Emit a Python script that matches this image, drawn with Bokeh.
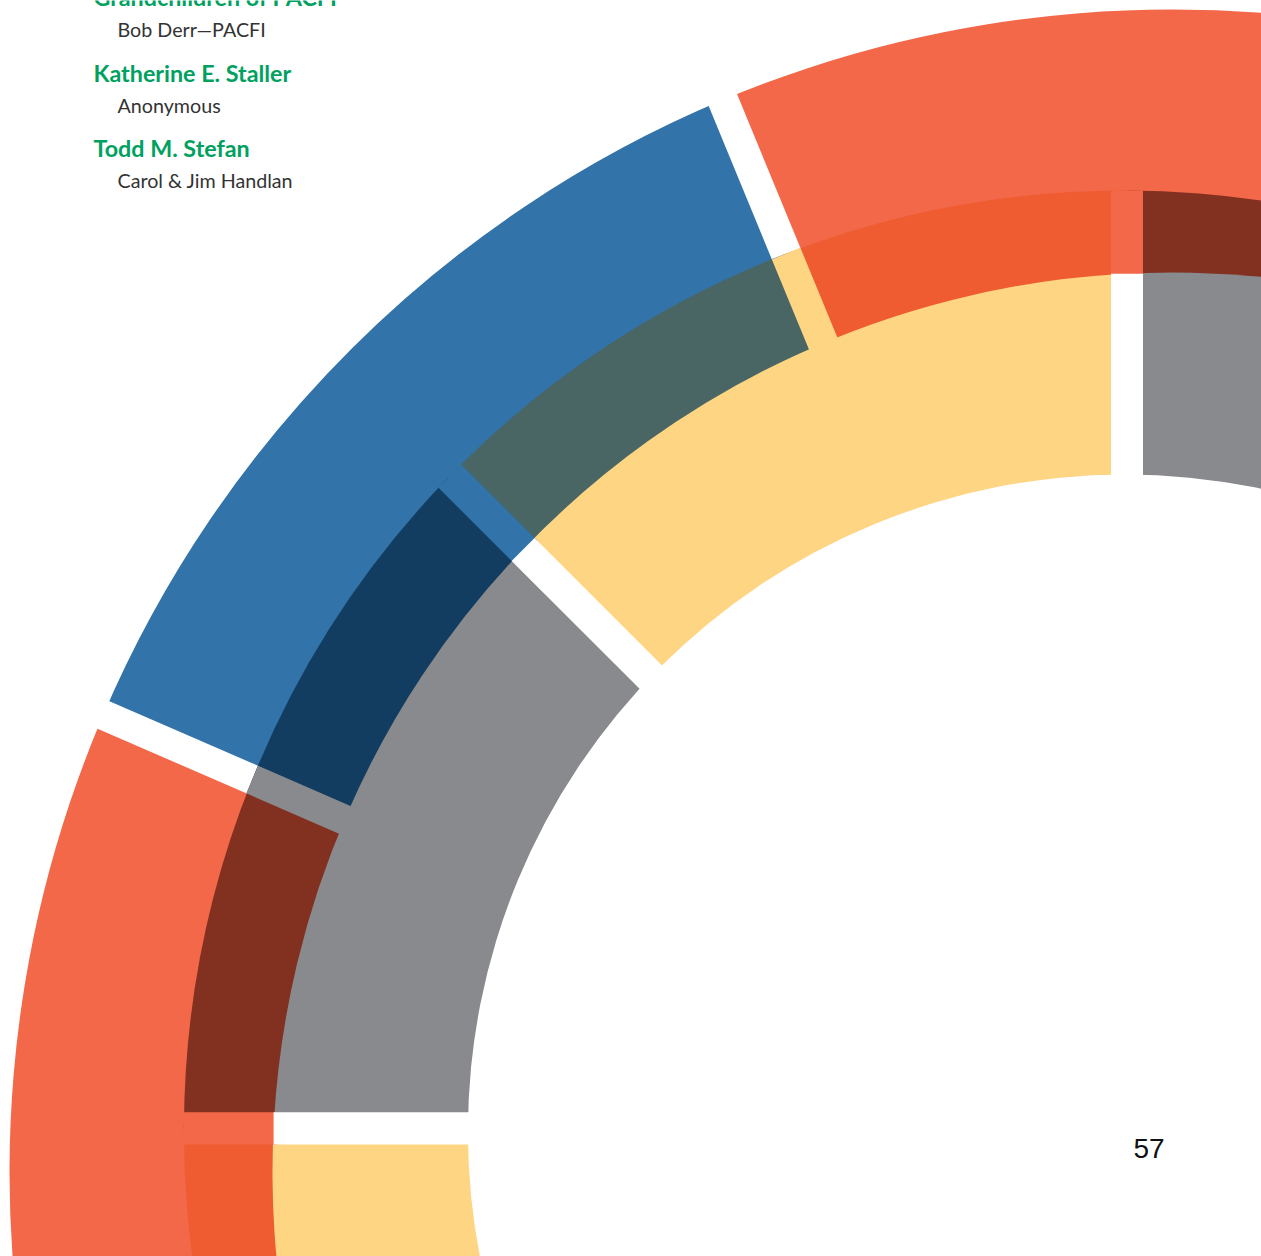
import numpy as np
from bokeh.plotting import figure
from bokeh.models import Range1d
from bokeh.core.properties import value
from bokeh.embed import file_html
from bokeh.resources import INLINE

W, H = 1261, 1256

# ---------------- data ----------------
# outer ring (coral / blue): centre and radii (y measured upward)
outer_center = [1172.0, 84.0]
outer_radii = [900.0, 1163.0]
# inner ring (grey / yellow)
inner_center = [1124.4, 125.0]
inner_radii = [657.0, 941.0]

# gaps of the outer ring: a point on the gap's centre line, its direction, its width
outer_gap_x = [772.5, 177.25]
outer_gap_y = [1034.75, 509.3]
outer_gap_angle = [112.4, 156.5]
outer_gap_width = [30.8, 30.0]
outer_segments = ["coral", "blue", "coral"]

# gaps of the inner ring
inner_gap_x = [1126.5, 580.0, 320.0]
inner_gap_y = [800.0, 649.7, 128.2]
inner_gap_angle = [90.0, 135.0, 180.0]
inner_gap_width = [32.0, 32.5, 32.3]
inner_segments = ["grey", "yellow", "grey", "yellow"]

base_colors = {"coral": "#F26849", "blue": "#3273AA",
               "grey": "#898A8D", "yellow": "#FED583"}
overlap_colors = {("coral", "grey"): "#823120", ("coral", "yellow"): "#EF5C31",
                  ("blue", "yellow"): "#4A6664", ("blue", "grey"): "#123D61"}

names = ["Grandchildren of PACFI", "Katherine E. Staller", "Todd M. Stefan"]
donors = ["Bob Derr\u2014PACFI", "Anonymous", "Carol & Jim Handlan"]
page_number = "57"

# ---------------- helpers ----------------
CA = np.array(outer_center)
CB = np.array(inner_center)
rA_in, rA_out = outer_radii
rB_in, rB_out = inner_radii


def unit(deg):
    a = np.radians(deg)
    return np.array([np.cos(a), np.sin(a)])


def t_at(p0, u, c, r):
    d = p0 - c
    b = u @ d
    cc = d @ d - r * r
    return -b + np.sqrt(b * b - cc)


def point_at(p0, u, c, r):
    return p0 + t_at(p0, u, c, r) * u


def ang(c, pt):
    return np.degrees(np.arctan2(pt[1] - c[1], pt[0] - c[0]))


outer_gaps = [(np.array([x, y]), unit(a), w) for x, y, a, w in
              zip(outer_gap_x, outer_gap_y, outer_gap_angle, outer_gap_width)]
inner_gaps = [(np.array([x, y]), unit(a), w) for x, y, a, w in
              zip(inner_gap_x, inner_gap_y, inner_gap_angle, inner_gap_width)]

p = figure(width=W, height=H, x_range=Range1d(0, W), y_range=Range1d(0, H),
           output_backend="svg", toolbar_location=None, min_border=0,
           x_axis_location=None, y_axis_location=None)
p.grid.visible = False
p.outline_line_color = None
p.background_fill_color = "white"
p.border_fill_color = "white"


def strip(p0, u, w, t0, t1, color):
    a = p0 + t0 * u
    b = p0 + t1 * u
    m = (a + b) / 2
    p.rect(x=[m[0]], y=[m[1]], width=[abs(t1 - t0)], height=[w],
           angle=[np.arctan2(u[1], u[0])], fill_color=color, line_color=None)


def sectors(bounds, lo, hi):
    edges = [lo] + list(bounds) + [hi]
    return list(zip(edges[:-1], edges[1:]))


# 1. outer ring segments
a_bounds_A = [ang(CA, point_at(p0, u, CA, (rA_in + rA_out) / 2)) for p0, u, w in outer_gaps]
for (s, e), name in zip(sectors(a_bounds_A, 40.0, 230.0), outer_segments):
    p.annular_wedge(x=[CA[0]], y=[CA[1]], inner_radius=rA_in, outer_radius=rA_out,
                    start_angle=np.radians(s), end_angle=np.radians(e),
                    fill_color=base_colors[name], line_color=None)

# 2. outer ring gaps (white)
for p0, u, w in outer_gaps:
    strip(p0, u, w, t_at(p0, u, CA, rA_in - 60), t_at(p0, u, CA, rA_out + 40), "white")

# 3. inner ring in overlap colours (split where the outer ring changes colour)
b_bounds_B = [ang(CB, point_at(p0, u, CB, (rB_in + rB_out) / 2)) for p0, u, w in inner_gaps]
a_bounds_B = [ang(CB, point_at(p0, u, CB, rB_out - 40)) for p0, u, w in outer_gaps]
lo, hi = 20.0, 260.0
edges = sorted([lo, hi] + b_bounds_B + a_bounds_B)
for s, e in zip(edges[:-1], edges[1:]):
    mid = (s + e) / 2
    bi = sum(mid > b for b in b_bounds_B)
    ai = sum(mid > a for a in a_bounds_B)
    col = overlap_colors[(outer_segments[ai], inner_segments[bi])]
    p.wedge(x=[CB[0]], y=[CB[1]], radius=rB_out,
            start_angle=np.radians(s), end_angle=np.radians(e),
            fill_color=col, line_color=None)

# 4. outer-ring gaps inside the inner ring show the inner colour
for p0, u, w in outer_gaps:
    pt = point_at(p0, u, CB, rB_out - 40)
    bi = sum(ang(CB, pt) > b for b in b_bounds_B)
    strip(p0, u, w, t_at(p0, u, CA, rA_in - 60), t_at(p0, u, CB, rB_out),
          base_colors[inner_segments[bi]])

# 5. inner ring where the outer ring is absent
b_bounds_A = [ang(CA, point_at(p0, u, CA, (rB_in + rA_in) / 2)) for p0, u, w in inner_gaps]
for (s, e), name in zip(sectors(b_bounds_A, 20.0, 290.0), inner_segments):
    p.wedge(x=[CA[0]], y=[CA[1]], radius=rA_in,
            start_angle=np.radians(s), end_angle=np.radians(e),
            fill_color=base_colors[name], line_color=None)

# 6. hole of the inner ring
p.circle(x=[CB[0]], y=[CB[1]], radius=rB_in, fill_color="white", line_color=None)

# 7. inner-ring gaps: outer colour in the overlap, white elsewhere
for p0, u, w in inner_gaps:
    pt = point_at(p0, u, CB, rB_out)
    ai = sum(ang(CA, pt) > a for a in a_bounds_A)
    strip(p0, u, w, t_at(p0, u, CA, rA_in - 4), t_at(p0, u, CB, rB_out),
          base_colors[outer_segments[ai]])
    strip(p0, u, w, t_at(p0, u, CB, rB_in - 6), t_at(p0, u, CA, rA_in), "white")

# ---------------- texts ----------------
name_base = [-4.0, 72.5, 147.5]
donor_base = [28.5, 105.0, 180.0]
p.text(x=[93] * 3, y=[H - b for b in name_base], text=names,
       text_font=value("Lato"), text_font_style="bold", text_font_size="23.3px",
       text_color="#00A160", text_baseline="alphabetic", text_align="left")
p.text(x=[117] * 3, y=[H - b for b in donor_base], text=donors,
       text_font=value("Lato"), text_font_size="19.7px",
       text_color="#333333", text_baseline="alphabetic", text_align="left")
p.text(x=[1133], y=[H - 1148.3], text=[page_number],
       text_font=value("Liberation Sans"), text_font_size="28px",
       text_color="#111111", text_baseline="alphabetic", text_align="left")

open("out.html", "w").write(file_html(p, INLINE))
